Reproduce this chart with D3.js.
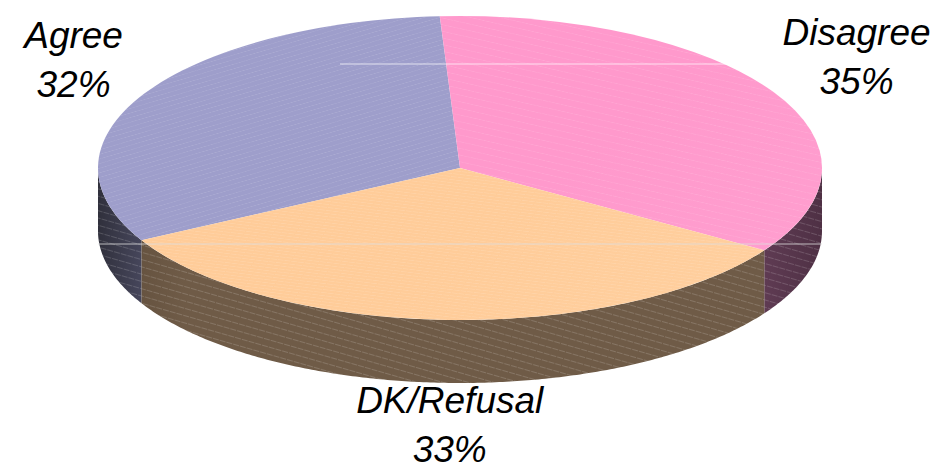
<!DOCTYPE html>
<html>
<head>
<meta charset="utf-8">
<script src="https://cdn.jsdelivr.net/npm/d3@7"></script>
<style>
  body { margin: 0; background: #fff; }
  svg { display: block; }
  text { font-family: "Liberation Sans", Arial, sans-serif; font-style: italic; fill: #000; }
</style>
</head>
<body>
<div id="chart"></div>
<script>
// chart data
const categories = ['Agree', 'Disagree', 'DK/Refusal'];
const values = [32, 35, 33];
const pctLabels = ['32%', '35%', '33%'];

const topColors = ['#9e9ecb', '#ff99cc', '#ffcc99'];
const topLight = ['#bebef0', '#ffa0d0', '#ffd0a0'];
const sideColors = ['#5c5c7a', '#6e4560', '#6f5b47'];
const sideDark = ['#30303c', '#4e3044', '#5e4c3a'];

function drawChart() {
  const width = 947;
  const height = 473;
  const cx = 460, cy = 168;
  const rx = 362, ry = 152;
  const depth = 63;

  const svg = d3.select('#chart')
    .append('svg')
    .attr('width', width)
    .attr('height', height);

  const defs = svg.append('defs');

  // hatch textures (faint white strokes like the original render)
  const hatch = [
    { id: 'h0', angle: -35, gap: 9 },
    { id: 'h1', angle: 28, gap: 14 },
    { id: 'h2', angle: 16, gap: 7 }
  ];
  hatch.forEach(h => {
    const p = defs.append('pattern')
      .attr('id', h.id)
      .attr('patternUnits', 'userSpaceOnUse')
      .attr('width', h.gap).attr('height', h.gap)
      .attr('patternTransform', `rotate(${h.angle})`);
    p.append('line')
      .attr('x1', 0).attr('y1', 0).attr('x2', h.gap).attr('y2', 0)
      .attr('stroke', '#fff').attr('stroke-opacity', 0.4).attr('stroke-width', 0.8)
      .attr('stroke-dasharray', '3,1');
  });

  categories.forEach((c, i) => {
    const g = defs.append('linearGradient')
      .attr('id', 'top' + i)
      .attr('gradientUnits', 'userSpaceOnUse')
      .attr('x1', cx - rx).attr('y1', cy - ry)
      .attr('x2', cx).attr('y2', cy + 40);
    g.append('stop').attr('offset', 0).attr('stop-color', topColors[i]);
    g.append('stop').attr('offset', 1).attr('stop-color', topLight[i]);

    const s = defs.append('linearGradient')
      .attr('id', 'side' + i)
      .attr('gradientUnits', 'userSpaceOnUse')
      .attr('x1', cx - rx).attr('y1', 0)
      .attr('x2', cx + rx).attr('y2', 0);
    if (i === 1) {
      s.append('stop').attr('offset', 0.85).attr('stop-color', sideColors[i]);
      s.append('stop').attr('offset', 1).attr('stop-color', sideDark[i]);
    } else {
      s.append('stop').attr('offset', 0).attr('stop-color', sideDark[i]);
      s.append('stop').attr('offset', 0.12).attr('stop-color', sideColors[i]);
      s.append('stop').attr('offset', 1).attr('stop-color', sideColors[i]);
    }
  });

  const startDeg = -118.4;
  const pie = d3.pie()
    .sort(null)
    .value(d => d)
    .startAngle(startDeg * Math.PI / 180)
    .endAngle(startDeg * Math.PI / 180 + 2 * Math.PI);
  const arcs = pie(values);

  const px = a => cx + rx * Math.sin(a);
  const py = a => cy - ry * Math.cos(a);

  // side walls (front half only)
  const sides = svg.append('g').attr('class', 'sides');
  const TAU = 2 * Math.PI;
  arcs.forEach((d, i) => {
    [-TAU, 0, TAU].forEach(off => {
      const lo = Math.max(d.startAngle, Math.PI / 2 + off);
      const hi = Math.min(d.endAngle, 3 * Math.PI / 2 + off);
      if (hi <= lo) return;
      const steps = d3.range(lo, hi, 0.01).concat([hi]);
      const path = d3.path();
      steps.forEach((a, k) => k ? path.lineTo(px(a), py(a)) : path.moveTo(px(a), py(a)));
      steps.slice().reverse().forEach(a => path.lineTo(px(a), py(a) + depth));
      path.closePath();
      sides.append('path').attr('d', path.toString()).attr('fill', `url(#side${i})`);
      sides.append('path').attr('d', path.toString()).attr('fill', 'url(#h2)');
    });
  });

  // top faces
  const arc = d3.arc().innerRadius(0).outerRadius(rx);
  const top = svg.append('g')
    .attr('transform', `translate(${cx},${cy}) scale(1,${ry / rx})`);
  arcs.forEach((d, i) => {
    top.append('path').attr('d', arc(d)).attr('fill', `url(#top${i})`);
  });
  const topHatch = svg.append('g');
  arcs.forEach((d, i) => {
    topHatch.append('path')
      .attr('transform', `translate(${cx},${cy}) scale(1,${ry / rx})`)
      .attr('d', arc(d))
      .attr('fill', `url(#h${i})`);
  });

  // faint horizontal render seams
  svg.append('line').attr('x1', 340).attr('x2', 822).attr('y1', 64).attr('y2', 64)
    .attr('stroke', '#fff').attr('stroke-opacity', 0.7);
  svg.append('line').attr('x1', 98).attr('x2', 822).attr('y1', 244).attr('y2', 244)
    .attr('stroke', '#ddd').attr('stroke-opacity', 0.8);

  // labels
  const labels = svg.append('g').attr('class', 'labels');
  const labelCx = cx + 7;
  arcs.forEach((d, i) => {
    const mid = (d.startAngle + d.endAngle) / 2;
    const lx = labelCx + rx * 1.245 * Math.sin(mid);
    let ly = cy - ry * 1.45 * Math.cos(mid);
    if (Math.cos(mid) < 0) ly += depth * 0.58;
    const t = labels.append('text')
      .attr('text-anchor', 'middle')
      .attr('font-size', 37);
    t.append('tspan').attr('x', lx).attr('y', ly - 12).text(categories[i]);
    t.append('tspan').attr('x', lx).attr('y', ly + 37).text(pctLabels[i]);
  });
}

document.addEventListener('DOMContentLoaded', drawChart);
</script>
</body>
</html>
